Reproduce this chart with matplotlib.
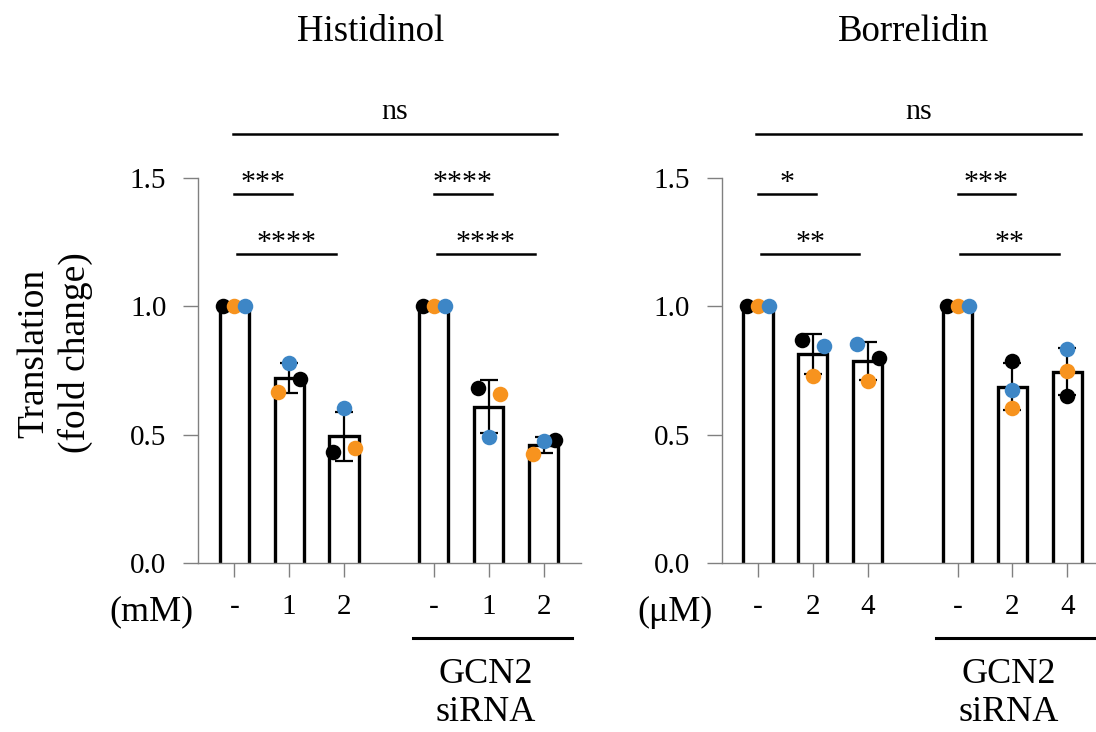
import numpy as np
import matplotlib
matplotlib.use('Agg')
import matplotlib.pyplot as plt

plt.rcParams['font.family'] = ['Liberation Serif', 'DejaVu Serif']

# replicate order: black, orange, blue
rep_colors = ['#000000', '#F7931E', '#3D86C6']

titles = ['Histidinol', 'Borrelidin']
unit_labels = ['(mM)', '(\u03bcM)']
tick_labels = [['-', '1', '2', '-', '1', '2'],
               ['-', '2', '4', '-', '2', '4']]

histidinol = [[1.0, 1.0, 1.0],
              [0.716, 0.665, 0.78],
              [0.432, 0.447, 0.603],
              [1.0, 1.0, 1.0],
              [0.68, 0.657, 0.49],
              [0.478, 0.425, 0.475]]
borrelidin = [[1.0, 1.0, 1.0],
              [0.87, 0.727, 0.845],
              [0.80, 0.708, 0.853],
              [1.0, 1.0, 1.0],
              [0.786, 0.603, 0.673],
              [0.65, 0.75, 0.833]]

# significance: (bar a, bar b, label)
sig_histidinol = [(0, 1, '***'), (0, 2, '****'), (3, 4, '****'), (3, 5, '****')]
sig_borrelidin = [(0, 1, '*'), (0, 2, '**'), (3, 4, '***'), (3, 5, '**')]
ns_label = 'ns'

# layout only: dot jitter (-1 left, 0 centre, +1 right) per bar
jitter_histidinol = [(-1, 0, 1), (1, -1, 0), (-1, 1, 0), (-1, 0, 1), (-1, 1, 0), (1, -1, 0)]
jitter_borrelidin = [(-1, 0, 1), (-1, 0, 1), (1, 0, -1), (-1, 0, 1), (0, 0, 0), (0, 0, 0)]

xpos = np.array([0, 1, 2, 3.64, 4.64, 5.64])
bar_w = 0.53
title_x = [2.49, 2.84]

fig = plt.figure(figsize=(10.96, 7.32), dpi=100)
ax_l = fig.add_axes([198 / 1096, 169 / 732, 383 / 1096, 385 / 732])
ax_r = fig.add_axes([721.7 / 1096, 169 / 732, 383 / 1096, 385 / 732])

panels = [(ax_l, histidinol, jitter_histidinol, sig_histidinol),
          (ax_r, borrelidin, jitter_borrelidin, sig_borrelidin)]

for i, (ax, data, jit, sigs) in enumerate(panels):
    vals = np.array(data)
    means = vals.mean(axis=1)
    sds = vals.std(axis=1, ddof=1)

    # bars start just below 0 so the bottom edge is clipped away (open bars)
    ax.bar(xpos, means + 0.02, bottom=-0.02, width=bar_w, facecolor='white',
           edgecolor='black', linewidth=2.4, zorder=2)
    ax.errorbar(xpos, means, yerr=sds, fmt='none', ecolor='black',
                elinewidth=1.6, capsize=6.5, capthick=1.6, zorder=3)
    for r in range(3):
        xs = xpos + 0.2 * np.array([j[r] for j in jit])
        ax.scatter(xs, vals[:, r], s=125, color=rep_colors[r], zorder=4 + r,
                   linewidths=0, clip_on=False)

    ax.set_xlim(-0.662, 6.322)
    ax.set_ylim(0, 1.5)
    ax.set_yticks([0, 0.5, 1.0, 1.5])
    ax.set_yticklabels(['0.0', '0.5', '1.0', '1.5'])
    ax.set_xticks(xpos)
    ax.set_xticklabels(tick_labels[i])
    for s in ['top', 'right']:
        ax.spines[s].set_visible(False)
    for s in ['left', 'bottom']:
        ax.spines[s].set_color('#808080')
        ax.spines[s].set_linewidth(1.0)
    ax.tick_params(axis='y', length=10.8, width=1.0, color='#808080', pad=12, labelsize=21)
    ax.tick_params(axis='x', length=10, width=1.0, color='#808080', pad=12, labelsize=21)

    # significance brackets
    for a, b, lab in sigs:
        short = (b - a) == 1
        if short:
            x0, x1, y = xpos[a], xpos[b] + 0.05, 1.436
        else:
            x0, x1, y = xpos[a] + 0.05, xpos[b] - 0.15, 1.202
        ax.plot([x0, x1], [y, y], color='black', lw=1.8, clip_on=False)
        ax.text((x0 + x1) / 2, y + 0.016, lab, ha='center', va='baseline',
                fontsize=21.5)
    x0, x1 = xpos[0] - 0.03, xpos[-1] + 0.25
    ax.plot([x0, x1], [1.673, 1.673], color='black', lw=1.8, clip_on=False)
    ax.text((x0 + x1) / 2, 1.673 + 0.058, ns_label, ha='center', va='baseline',
            fontsize=21.5)

    ax.text(title_x[i], 2.032, titles[i], ha='center', va='baseline', fontsize=26.5)
    ax.text(-1.52, -0.225, unit_labels[i], ha='center', va='baseline', fontsize=26,
            clip_on=False)
    # GCN2 siRNA group line
    ax.plot([3.25, 6.16], [-0.292, -0.292], color='black', lw=2.2, clip_on=False)
    ax.text(4.58, -0.51, 'GCN2\nsiRNA', ha='center', va='center', fontsize=26,
            linespacing=1.2, clip_on=False)

fig.text(55 / 1096, 1 - 353 / 732, 'Translation\n(fold change)', rotation=90,
         ha='center', va='center', multialignment='center', fontsize=27, linespacing=1.25)

fig.savefig('out.png', dpi=100)
